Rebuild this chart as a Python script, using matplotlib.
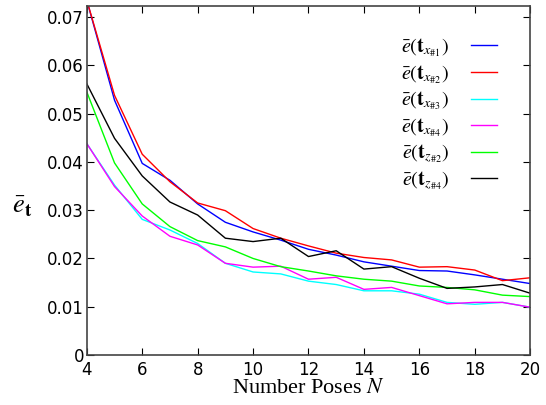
import numpy as np
import matplotlib.pyplot as plt

plt.rcParams['mathtext.fontset'] = 'stix'

# Data
N = [4, 5, 6, 7, 8, 9, 10, 11, 12, 13, 14, 15, 16, 17, 18, 19, 20]
e_x1 = [0.0735, 0.0528, 0.0397, 0.0362, 0.0313, 0.0275, 0.0255, 0.0238, 0.0219, 0.0207, 0.0193, 0.0184, 0.0175, 0.0174, 0.0166, 0.0157, 0.0148]
e_x2 = [0.0735, 0.0538, 0.0416, 0.0359, 0.0315, 0.0299, 0.0262, 0.0242, 0.0226, 0.0211, 0.0202, 0.0197, 0.0182, 0.0183, 0.0176, 0.0154, 0.0160]
e_x3 = [0.0438, 0.0352, 0.0281, 0.0259, 0.0231, 0.0190, 0.0172, 0.0168, 0.0153, 0.0146, 0.0133, 0.0133, 0.0126, 0.0109, 0.0105, 0.0109, 0.0099]
e_x4 = [0.0438, 0.0349, 0.0288, 0.0246, 0.0228, 0.0190, 0.0182, 0.0184, 0.0157, 0.0161, 0.0136, 0.0140, 0.0123, 0.0106, 0.0109, 0.0109, 0.0099]
e_z2 = [0.0545, 0.0398, 0.0313, 0.0266, 0.0237, 0.0224, 0.0200, 0.0183, 0.0174, 0.0164, 0.0157, 0.0153, 0.0143, 0.0140, 0.0135, 0.0124, 0.0121]
e_z4 = [0.0562, 0.0449, 0.0371, 0.0317, 0.0290, 0.0242, 0.0235, 0.0242, 0.0204, 0.0216, 0.0178, 0.0183, 0.0159, 0.0138, 0.0141, 0.0146, 0.0128]

labels = [r'$\bar{e}(\mathbf{t}_{x_{\#1}})$', r'$\bar{e}(\mathbf{t}_{x_{\#2}})$',
          r'$\bar{e}(\mathbf{t}_{x_{\#3}})$', r'$\bar{e}(\mathbf{t}_{x_{\#4}})$',
          r'$\bar{e}(\mathbf{t}_{z_{\#2}})$', r'$\bar{e}(\mathbf{t}_{z_{\#4}})$']
colors = ['#0000ff', '#ff0000', '#00ffff', '#ff00ff', '#00ff00', '#000000']
series = [e_x1, e_x2, e_x3, e_x4, e_z2, e_z4]

fig = plt.figure(figsize=(5.46, 4.05), dpi=100)
ax = fig.add_axes([0.159, 0.1235, 0.812, 0.8615])

for y, c, lab in zip(series, colors, labels):
    ax.plot(N, y, color=c, lw=1.0, label=lab)

ax.set_xlim(4, 20)
ax.set_ylim(0, 0.0723)
ax.set_xticks(range(4, 21, 2))
ax.set_yticks([0, 0.01, 0.02, 0.03, 0.04, 0.05, 0.06, 0.07])
ax.set_yticklabels(['0', '0.01', '0.02', '0.03', '0.04', '0.05', '0.06', '0.07'])
ax.tick_params(direction='in', top=True, right=True, length=5, labelsize=12, pad=2)
ax.tick_params(axis='x', pad=4)
for s in ax.spines.values():
    s.set_color('#444444')
    s.set_linewidth(1.2)

ax.set_xlabel('Number Poses $N$', family='Liberation Serif', fontsize=16, labelpad=0)
ax.set_ylabel(r'$\bar{e}_{\mathbf{t}}$', fontsize=19, rotation=0)
ax.yaxis.set_label_coords(-0.145, 0.39)

ax.legend(loc='upper right', frameon=False, markerfirst=False, fontsize=14.5,
          handlelength=1.3, handletextpad=1.1, labelspacing=0.2,
          bbox_to_anchor=(0.967, 0.965))

fig.savefig('out.png', dpi=100)
